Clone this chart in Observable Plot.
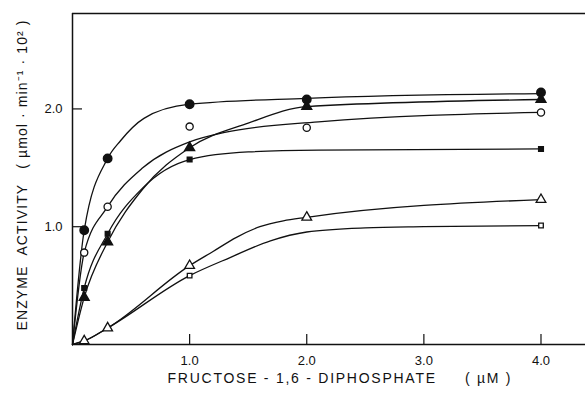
<!DOCTYPE html>
<html>
<head>
<meta charset="utf-8">
<script src="https://cdn.jsdelivr.net/npm/d3@7"></script>
<script src="https://cdn.jsdelivr.net/npm/@observablehq/plot@0.6"></script>
<style>
  html, body { margin: 0; padding: 0; background: #fff; }
  #chart svg { display: block; font-family: "Liberation Sans", Arial, sans-serif; }
</style>
</head>
<body>
<div id="chart"></div>
<script>
// ---- data ----
const xTicks = [1.0, 2.0, 3.0, 4.0];
const yTicks = [1.0, 2.0];
const xLabel = "FRUCTOSE - 1,6 - DIPHOSPHATE\u00a0\u00a0\u00a0\u00a0\u00a0( \u00b5M )";
const yLabel = "ENZYME\u00a0\u00a0ACTIVITY\u00a0\u00a0\u00a0( \u00b5mol \u00b7 min\u207b\u00b9 \u00b7 10\u00b2 )";

// measured points
const xPoints = [0.1, 0.3, 1.0, 2.0, 4.0];
const filledCircle = [0.97, 1.58, 2.04, 2.08, 2.14];
const openCircle = [0.78, 1.17, 1.85, 1.84, 1.97];
const filledTriangle = [0.40, 0.87, 1.67, 2.02, 2.08];
const openTriangle = [0.03, 0.14, 0.67, 1.08, 1.23];
const xFilledSquare = [0.1, 0.3, 1.0, 4.0];
const filledSquare = [0.48, 0.94, 1.57, 1.66];
const xOpenSquare = [1.0, 4.0];
const openSquare = [0.585, 1.01];

// hand-drawn fitted curves (knots)
const curveFilledCircleX = [0, 0.1, 0.3, 0.41, 0.61, 1.0, 2.0, 4.0];
const curveFilledCircleY = [0, 0.97, 1.58, 1.73, 1.92, 2.04, 2.09, 2.13];
const curveOpenCircleX = [0, 0.1, 0.3, 0.6, 1.0, 1.3, 2.1, 4.0];
const curveOpenCircleY = [0, 0.78, 1.17, 1.50, 1.72, 1.80, 1.89, 1.97];
const curveFilledTriangleX = [0, 0.1, 0.3, 0.6, 1.0, 1.5, 2.0, 4.0];
const curveFilledTriangleY = [0, 0.40, 0.87, 1.32, 1.67, 1.88, 2.02, 2.08];
const curveFilledSquareX = [0, 0.1, 0.3, 0.6, 1.0, 1.5, 2.1, 4.0];
const curveFilledSquareY = [0, 0.48, 0.94, 1.33, 1.57, 1.635, 1.65, 1.66];
const curveOpenTriangleX = [0, 0.1, 0.3, 1.0, 1.2, 1.4, 1.6, 1.8, 2.0, 4.0];
const curveOpenTriangleY = [0, 0.03, 0.14, 0.67, 0.79, 0.91, 1.00, 1.05, 1.08, 1.23];
const curveOpenSquareX = [0, 0.1, 0.3, 1.0, 1.35, 1.69, 2.0, 2.5, 3.0, 4.0];
const curveOpenSquareY = [0, 0.03, 0.14, 0.585, 0.74, 0.88, 0.955, 0.99, 1.0, 1.01];

// ---- build tables ----
const zip = (xs, ys) => xs.map((x, i) => ({x, y: ys[i]}));
const curves = [
  zip(curveFilledCircleX, curveFilledCircleY),
  zip(curveOpenCircleX, curveOpenCircleY),
  zip(curveFilledTriangleX, curveFilledTriangleY),
  zip(curveFilledSquareX, curveFilledSquareY),
  zip(curveOpenTriangleX, curveOpenTriangleY),
  zip(curveOpenSquareX, curveOpenSquareY)
];

const W = 585, H = 405;
const mL = 72, mR = 0, mT = 13, mB = 61;
const xMax = 4.38, yMax = 2.81;
const tickPx = 10;
const yTickLen = tickPx * yMax / (H - mT - mB);
const xTickLen = tickPx * xMax / (W - mL - mR);

const ink = "#111";
const lineMarks = curves.map(c => Plot.line(c, {x: "x", y: "y", curve: "monotone-x", stroke: ink, strokeWidth: 1.3}));

const chart = Plot.plot({
  width: W, height: H,
  marginLeft: mL, marginRight: mR, marginTop: mT, marginBottom: mB,
  x: {domain: [0, xMax], axis: null},
  y: {domain: [0, yMax], axis: null},
  marks: [
    // frame: left, bottom, top
    Plot.ruleX([0], {stroke: ink, strokeWidth: 1.5}),
    Plot.ruleY([0, yMax], {stroke: ink, strokeWidth: 1.5}),
    // inward ticks
    Plot.ruleX(xTicks, {x: d => d, y1: 0, y2: yTickLen, stroke: ink, strokeWidth: 1.2}),
    Plot.ruleY(yTicks, {y: d => d, x1: 0, x2: xTickLen, stroke: ink, strokeWidth: 1.2}),
    // tick labels
    Plot.text(xTicks, {x: d => d, frameAnchor: "bottom", dy: 20, text: d => d.toFixed(1), fontSize: 13, fill: ink}),
    Plot.text(yTicks, {y: d => d, frameAnchor: "left", dx: -10, textAnchor: "end", text: d => d.toFixed(1), fontSize: 13, fill: ink}),
    // axis titles
    Plot.text([xLabel], {frameAnchor: "bottom-left", dx: 95, dy: 38, textAnchor: "start", text: d => d, fontSize: 14, fill: ink, className: "xlab"}),
    Plot.text([yLabel], {frameAnchor: "bottom-left", dx: -46, dy: -14, rotate: -90, textAnchor: "start", text: d => d, fontSize: 14, fill: ink, className: "ylab"}),
    // curves
    ...lineMarks,
    // markers
    Plot.dot(zip(xPoints, filledCircle), {x: "x", y: "y", symbol: "circle", r: 4.2, fill: ink, stroke: ink}),
    Plot.dot(zip(xPoints, openCircle), {x: "x", y: "y", symbol: "circle", r: 3.6, fill: "white", stroke: ink, strokeWidth: 1.3}),
    Plot.dot(zip(xPoints, filledTriangle), {x: "x", y: "y", symbol: "triangle", r: 3.6, fill: ink, stroke: ink}),
    Plot.dot(zip(xPoints, openTriangle), {x: "x", y: "y", symbol: "triangle", r: 3.6, fill: "white", stroke: ink, strokeWidth: 1.3}),
    Plot.dot(zip(xFilledSquare, filledSquare), {x: "x", y: "y", symbol: "square", r: 2.6, fill: ink, stroke: ink}),
    Plot.dot(zip(xOpenSquare, openSquare), {x: "x", y: "y", symbol: "square", r: 2.6, fill: "white", stroke: ink, strokeWidth: 1.3})
  ]
});
// fit the axis titles to the lengths they take in the reference
d3.select(chart).selectAll(".xlab text").attr("textLength", 343).attr("lengthAdjust", "spacing");
d3.select(chart).selectAll(".ylab text").attr("textLength", 310).attr("lengthAdjust", "spacing");
document.getElementById("chart").appendChild(chart);
</script>
</body>
</html>
